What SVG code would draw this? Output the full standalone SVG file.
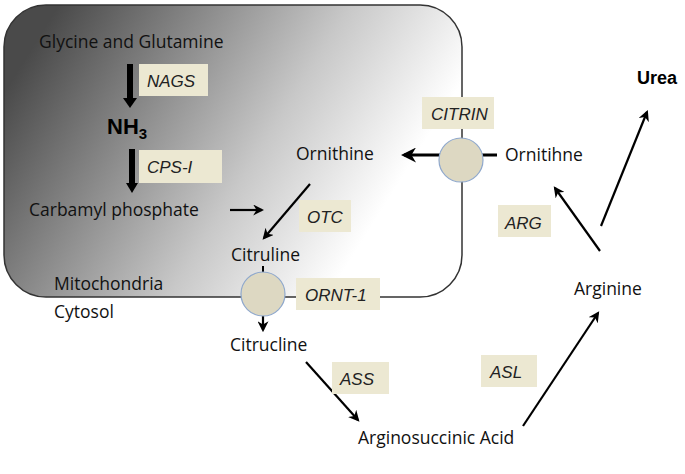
<svg xmlns="http://www.w3.org/2000/svg" width="685" height="474" viewBox="0 0 685 474">
<style>
.t{font-family:"Open Sans","Liberation Sans",sans-serif;font-size:17.5px;fill:#111}
.e{font-family:"Liberation Sans",sans-serif;font-style:italic;font-size:17px;fill:#222}
.lb{fill:#ece8d2}
.c{fill:#ddd8c2;stroke:#8fa8cc;stroke-width:1.2}
.a{stroke:#000;stroke-width:2.2;fill:none;marker-end:url(#ah)}
.k{stroke:#000;stroke-width:6;fill:none}
</style>
<defs>
<linearGradient id="g" x1="0" y1="0.3" x2="1" y2="0.7">
<stop offset="0" stop-color="#4a4a4a"/><stop offset="0.55" stop-color="#c8c8c8"/><stop offset="0.85" stop-color="#fff"/>
</linearGradient>
<marker id="ah" viewBox="0 0 10 10" refX="8" refY="5" markerWidth="5" markerHeight="5" orient="auto"><path d="M0,0 L10,5 L0,10 L3,5 Z" fill="#000"/></marker>
</defs>
<g id="mito"><rect x="4" y="5" width="458" height="292" rx="42" fill="url(#g)" stroke="#333" stroke-width="1.5"/></g>
<g id="connectors">
<line x1="130" y1="64" x2="130" y2="100" class="k"/><path d="M123,98 L137,98 L130,108 Z"/>
<line x1="132" y1="149" x2="132" y2="185" class="k"/><path d="M126,183 L138,183 L132,193 Z"/>
<line x1="230" y1="210" x2="262" y2="210" class="a"/>
<line x1="310" y1="184" x2="264" y2="238" class="a"/>
<line x1="441" y1="155" x2="404" y2="155" class="a" style="stroke-width:3"/>
<line x1="482" y1="155" x2="497" y2="155" stroke="#000" stroke-width="3"/>
<line x1="263" y1="266" x2="263" y2="273" stroke="#000" stroke-width="2"/>
<line x1="263" y1="315" x2="263" y2="330" class="a"/>
<line x1="306" y1="362" x2="358" y2="420" class="a"/>
<line x1="523" y1="426" x2="598" y2="313" class="a"/>
<line x1="600" y1="251" x2="555" y2="188" class="a"/>
<line x1="601" y1="226" x2="647" y2="112" class="a"/>
</g>
<g id="labels">
<rect class="lb" x="139" y="64" width="69" height="32"/><text class="e" x="147" y="87">NAGS</text>
<rect class="lb" x="139" y="150" width="83" height="33"/><text class="e" x="147" y="173">CPS-I</text>
<rect class="lb" x="299" y="200" width="52" height="32"/><text class="e" x="307" y="223">OTC</text>
<rect class="lb" x="422" y="97" width="72" height="32"/><text class="e" x="431" y="120">CITRIN</text>
<rect class="lb" x="296" y="278" width="84" height="32"/><text class="e" x="305" y="301">ORNT-1</text>
<rect class="lb" x="498" y="205" width="53" height="32"/><text class="e" x="505" y="229">ARG</text>
<rect class="lb" x="332" y="362" width="57" height="32"/><text class="e" x="340" y="385">ASS</text>
<rect class="lb" x="481" y="355" width="56" height="32"/><text class="e" x="490" y="378">ASL</text>
</g>
<g id="transporters">
<circle class="c" cx="461" cy="160" r="22"/>
<circle class="c" cx="263" cy="294" r="22"/>
</g>
<g id="nodes">
<text class="t" x="39" y="48">Glycine and Glutamine</text>
<text x="107" y="134" style="font-family:'Liberation Sans',sans-serif;font-weight:bold;font-size:22px">NH<tspan font-size="15" dy="5">3</tspan></text>
<text class="t" x="29" y="216">Carbamyl phosphate</text>
<text class="t" x="296" y="160">Ornithine</text>
<text class="t" x="231" y="261">Citruline</text>
<text class="t" x="54" y="290">Mitochondria</text>
<text class="t" x="54" y="318">Cytosol</text>
<text class="t" x="230" y="351">Citrucline</text>
<text class="t" x="358" y="444">Arginosuccinic Acid</text>
<text class="t" x="574" y="295">Arginine</text>
<text class="t" x="505" y="161">Ornitihne</text>
<text x="637" y="84" style="font-family:'Liberation Sans',sans-serif;font-weight:bold;font-size:18px">Urea</text>
</g>
</svg>
